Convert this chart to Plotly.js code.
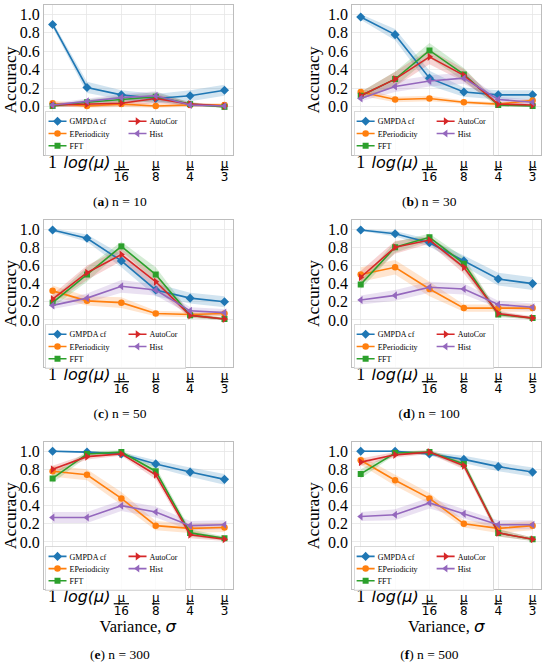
<!DOCTYPE html>
<html><head><meta charset="utf-8">
<script src="https://cdn.plot.ly/plotly-3.0.1.min.js"></script>
<style>
html,body{margin:0;padding:0;overflow:hidden;background:#fff;}
#wrap{width:550px;height:667px;overflow:hidden;position:relative;}
#chart{width:917px;height:1112px;transform:scale(0.6);transform-origin:0 0;}
</style></head><body><div id="wrap"><div id="chart"></div></div>
<script>
// ---------------- data ----------------
const xTickLabels = ['1', 'log(μ)', 'μ/16', 'μ/8', 'μ/4', 'μ/3'];
const xTitle = 'Variance, σ';
const yTitle = 'Accuracy';
const methods = ['GMPDA cf', 'EPeriodicity', 'FFT', 'AutoCor', 'Hist'];
const panelLetters = ['a', 'b', 'c', 'd', 'e', 'f'];
const panelN = [10, 30, 50, 100, 300, 500];

// n = 10
const n10_gmpda = [0.89, 0.21, 0.13, 0.09, 0.12, 0.18];
const n10_gmpda_band = [0.03, 0.06, 0.05, 0.05, 0.06, 0.06];
const n10_eper = [0.04, 0.01, 0.03, 0.01, 0.02, 0.02];
const n10_eper_band = [0.03, 0.02, 0.03, 0.02, 0.02, 0.02];
const n10_fft = [0.01, 0.05, 0.08, 0.11, 0.03, 0.00];
const n10_fft_band = [0.01, 0.03, 0.04, 0.05, 0.02, 0.01];
const n10_autocor = [0.02, 0.03, 0.04, 0.09, 0.03, 0.01];
const n10_autocor_band = [0.02, 0.03, 0.03, 0.05, 0.02, 0.01];
const n10_hist = [0.02, 0.06, 0.10, 0.12, 0.02, 0.01];
const n10_hist_band = [0.02, 0.03, 0.04, 0.05, 0.02, 0.01];
// n = 30
const n30_gmpda = [0.97, 0.78, 0.31, 0.16, 0.13, 0.13];
const n30_gmpda_band = [0.03, 0.06, 0.08, 0.05, 0.05, 0.05];
const n30_eper = [0.16, 0.08, 0.09, 0.05, 0.03, 0.07];
const n30_eper_band = [0.04, 0.03, 0.03, 0.02, 0.02, 0.02];
const n30_fft = [0.12, 0.30, 0.61, 0.35, 0.02, 0.01];
const n30_fft_band = [0.04, 0.08, 0.08, 0.07, 0.02, 0.01];
const n30_autocor = [0.12, 0.30, 0.54, 0.34, 0.03, 0.02];
const n30_autocor_band = [0.04, 0.08, 0.08, 0.07, 0.02, 0.02];
const n30_hist = [0.09, 0.22, 0.28, 0.31, 0.08, 0.05];
const n30_hist_band = [0.03, 0.06, 0.06, 0.06, 0.03, 0.03];
// n = 50
const n50_gmpda = [0.99, 0.90, 0.65, 0.33, 0.24, 0.20];
const n50_gmpda_band = [0.02, 0.04, 0.07, 0.07, 0.06, 0.06];
const n50_eper = [0.32, 0.21, 0.19, 0.07, 0.06, 0.07];
const n50_eper_band = [0.06, 0.05, 0.06, 0.03, 0.03, 0.03];
const n50_fft = [0.19, 0.50, 0.81, 0.50, 0.05, 0.01];
const n50_fft_band = [0.05, 0.08, 0.05, 0.08, 0.03, 0.01];
const n50_autocor = [0.23, 0.52, 0.72, 0.42, 0.05, 0.01];
const n50_autocor_band = [0.05, 0.08, 0.07, 0.08, 0.03, 0.01];
const n50_hist = [0.16, 0.24, 0.37, 0.33, 0.10, 0.08];
const n50_hist_band = [0.04, 0.05, 0.07, 0.06, 0.04, 0.04];
// n = 100
const n100_gmpda = [0.99, 0.95, 0.85, 0.65, 0.45, 0.40];
const n100_gmpda_band = [0.01, 0.03, 0.04, 0.06, 0.07, 0.07];
const n100_eper = [0.50, 0.58, 0.34, 0.13, 0.13, 0.13];
const n100_eper_band = [0.08, 0.08, 0.08, 0.04, 0.04, 0.04];
const n100_fft = [0.39, 0.80, 0.91, 0.62, 0.06, 0.02];
const n100_fft_band = [0.05, 0.06, 0.04, 0.07, 0.03, 0.01];
const n100_autocor = [0.47, 0.80, 0.88, 0.58, 0.07, 0.02];
const n100_autocor_band = [0.07, 0.07, 0.04, 0.07, 0.03, 0.02];
const n100_hist = [0.22, 0.27, 0.36, 0.34, 0.17, 0.14];
const n100_hist_band = [0.05, 0.06, 0.06, 0.06, 0.04, 0.04];
// n = 300
const n300_gmpda = [1.00, 0.99, 0.97, 0.86, 0.77, 0.69];
const n300_gmpda_band = [0.01, 0.01, 0.02, 0.04, 0.05, 0.06];
const n300_eper = [0.78, 0.74, 0.48, 0.18, 0.15, 0.16];
const n300_eper_band = [0.06, 0.06, 0.07, 0.05, 0.05, 0.05];
const n300_fft = [0.70, 0.97, 0.99, 0.78, 0.10, 0.04];
const n300_fft_band = [0.05, 0.03, 0.02, 0.05, 0.04, 0.02];
const n300_autocor = [0.80, 0.94, 0.97, 0.74, 0.08, 0.03];
const n300_autocor_band = [0.04, 0.03, 0.02, 0.05, 0.04, 0.02];
const n300_hist = [0.27, 0.27, 0.40, 0.33, 0.18, 0.19];
const n300_hist_band = [0.06, 0.06, 0.06, 0.06, 0.05, 0.05];
// n = 500
const n500_gmpda = [1.00, 1.00, 0.97, 0.91, 0.83, 0.77];
const n500_gmpda_band = [0.01, 0.01, 0.02, 0.04, 0.05, 0.05];
const n500_eper = [0.90, 0.68, 0.48, 0.20, 0.15, 0.18];
const n500_eper_band = [0.05, 0.06, 0.06, 0.04, 0.05, 0.05];
const n500_fft = [0.75, 0.98, 0.99, 0.86, 0.10, 0.03];
const n500_fft_band = [0.05, 0.02, 0.02, 0.04, 0.04, 0.02];
const n500_autocor = [0.88, 0.96, 0.99, 0.84, 0.10, 0.03];
const n500_autocor_band = [0.04, 0.03, 0.02, 0.04, 0.04, 0.02];
const n500_hist = [0.28, 0.30, 0.43, 0.31, 0.19, 0.19];
const n500_hist_band = [0.05, 0.06, 0.06, 0.05, 0.05, 0.05];

const panels = [
  [n10_gmpda, n10_eper, n10_fft, n10_autocor, n10_hist],
  [n30_gmpda, n30_eper, n30_fft, n30_autocor, n30_hist],
  [n50_gmpda, n50_eper, n50_fft, n50_autocor, n50_hist],
  [n100_gmpda, n100_eper, n100_fft, n100_autocor, n100_hist],
  [n300_gmpda, n300_eper, n300_fft, n300_autocor, n300_hist],
  [n500_gmpda, n500_eper, n500_fft, n500_autocor, n500_hist]
];
const bands = [
  [n10_gmpda_band, n10_eper_band, n10_fft_band, n10_autocor_band, n10_hist_band],
  [n30_gmpda_band, n30_eper_band, n30_fft_band, n30_autocor_band, n30_hist_band],
  [n50_gmpda_band, n50_eper_band, n50_fft_band, n50_autocor_band, n50_hist_band],
  [n100_gmpda_band, n100_eper_band, n100_fft_band, n100_autocor_band, n100_hist_band],
  [n300_gmpda_band, n300_eper_band, n300_fft_band, n300_autocor_band, n300_hist_band],
  [n500_gmpda_band, n500_eper_band, n500_fft_band, n500_autocor_band, n500_hist_band]
];

// ---------------- styles ----------------
const S = 0.6;                 // page is drawn at 1/S and scaled by CSS
const px = v => v / S;
const W = 550, H = 667;
const SERIF = '"Liberation Serif", "Times New Roman", Times, serif';
const colors = ['#1f77b4', '#ff7f0e', '#2ca02c', '#d62728', '#9467bd'];
const fills = ['rgba(31,119,180,0.2)', 'rgba(255,127,14,0.2)', 'rgba(44,160,44,0.2)',
               'rgba(214,39,40,0.2)', 'rgba(148,103,189,0.2)'];
const symbols = ['diamond', 'circle', 'square', 'triangle-right', 'triangle-left'];
const msizes = [7, 6.5, 6, 7, 7];
const legendCol = [1, 1, 1, 2, 2];
const legendWidths = [53, 53, 53, 32, 32];   // screen px of text slot

const colLeft = [44, 352], colRight = [233, 541];
const rowTop = [5, 220, 442], rowBottom = [155, 367, 589];
const yRange = [-0.52, 1.1];
const xRange = [-0.25, 5.25];
const xs = xTickLabels.map((_, i) => i);

function greekSans(t) {
  return t.replace(/([μσ])/g, '<span style="font-family:\'DejaVu Sans\'"><i>$1</i></span>');
}
function fmtTick(t) {
  if (t === '1') return '<span style="font-size:' + px(18) + 'px">1</span>';
  if (t.indexOf('log') === 0)
    return '<span style="font-family:\'DejaVu Sans\';font-size:' + px(16) + 'px"><i>' + t + '</i></span>';
  const parts = t.split('/');
  const st = 'font-family:\'DejaVu Sans\';font-size:' + px(12) + 'px';
  return '<span style="' + st + '">' + parts[0] + '</span><br>' +
         '<span style="' + st + ';text-decoration:overline">' + parts[1] + '</span>';
}
const xTickText = xTickLabels.map(fmtTick);

const traces = [];
const layout = {
  width: 917, height: 1112,
  margin: {l: 0, r: 0, t: 0, b: 0},
  paper_bgcolor: '#fff', plot_bgcolor: '#fff',
  font: {family: SERIF, color: '#000', size: px(12)},
  showlegend: true,
  annotations: []
};

panels.forEach((series, p) => {
  const col = p % 2, row = Math.floor(p / 2);
  const k = p === 0 ? '' : String(p + 1);
  const xa = 'x' + k, ya = 'y' + k;
  const legId = 'legend' + k;

  // bands first
  series.forEach((vals, s) => {
    const b = bands[p][s];
    traces.push({x: xs, y: vals.map((v, i) => v - b[i]), xaxis: xa, yaxis: ya,
      mode: 'lines', line: {width: 0, color: fills[s]}, showlegend: false, hoverinfo: 'skip'});
    traces.push({x: xs, y: vals.map((v, i) => v + b[i]), xaxis: xa, yaxis: ya,
      mode: 'lines', line: {width: 0, color: fills[s]}, fill: 'tonexty', fillcolor: fills[s],
      showlegend: false, hoverinfo: 'skip'});
  });
  // lines + markers
  series.forEach((vals, s) => {
    traces.push({x: xs, y: vals, xaxis: xa, yaxis: ya, name: methods[s],
      mode: 'lines+markers', legend: legId, legendgroup: 'p' + p + 'c' + legendCol[s],
      legendwidth: px(legendWidths[s]),
      line: {color: colors[s], width: px(1.6)},
      marker: {symbol: symbols[s], size: px(msizes[s]), color: colors[s]}});
  });

  const xDom = [colLeft[col] / W, colRight[col] / W];
  const yDom = [1 - rowBottom[row] / H, 1 - rowTop[row] / H];
  const axCommon = {
    showgrid: true, gridcolor: '#e6e6e6', gridwidth: px(0.8),
    showline: true, mirror: true, linecolor: '#bdbdbd', linewidth: px(1),
    zeroline: false, ticks: '', fixedrange: true
  };
  layout['xaxis' + k] = Object.assign({}, axCommon, {
    domain: xDom, anchor: ya, range: xRange,
    tickmode: 'array', tickvals: xs, ticktext: xTickText,
    tickfont: {family: SERIF, size: px(10), color: '#000'},
    ticklabelstandoff: px(1.5)
  });
  layout['yaxis' + k] = Object.assign({}, axCommon, {
    domain: yDom, anchor: xa, range: yRange,
    tickmode: 'array', tickvals: [0, 0.2, 0.4, 0.6, 0.8, 1.0],
    ticktext: ['0.0', '0.2', '0.4', '0.6', '0.8', '1.0'],
    tickfont: {family: SERIF, size: px(16), color: '#000'},
    title: {text: yTitle, font: {family: SERIF, size: px(17.5), color: '#000'},
            standoff: px(3)}
  });

  // legend below the zero line
  const zeroY = rowTop[row] + (rowBottom[row] - rowTop[row]) * (yRange[1] / (yRange[1] - yRange[0]));
  layout[legId] = {
    x: (colLeft[col] + 1.5) / W, y: 1 - (zeroY + 4.5) / H, xanchor: 'left', yanchor: 'top',
    orientation: 'h', traceorder: 'grouped', tracegroupgap: 0,
    bgcolor: 'rgba(255,255,255,0.8)', bordercolor: '#d0d0d0', borderwidth: px(0.8),
    font: {family: SERIF, size: px(8), color: '#000'},
    itemwidth: 30
  };

  // x-axis title (bottom row only)
  if (row === 2) {
    layout.annotations.push({
      xref: 'paper', yref: 'paper',
      x: (colLeft[col] + colRight[col]) / 2 / W, y: 1 - 626 / H,
      xanchor: 'center', yanchor: 'middle', showarrow: false,
      text: greekSans(xTitle),
      font: {family: SERIF, size: px(16.5), color: '#000'}
    });
  }

  // caption
  layout.annotations.push({
    xref: 'paper', yref: 'paper',
    x: (col === 0 ? 120 : 429) / W,
    y: 1 - (row === 2 ? 654 : (row === 0 ? 202 : 413)) / H,
    xanchor: 'center', yanchor: 'middle', showarrow: false,
    text: '(<b>' + panelLetters[p] + '</b>) n = ' + panelN[p],
    font: {family: SERIF, size: px(13.5), color: '#000'}
  });
});

Plotly.newPlot('chart', traces, layout, {staticPlot: true, displayModeBar: false});
</script>
</body></html>
